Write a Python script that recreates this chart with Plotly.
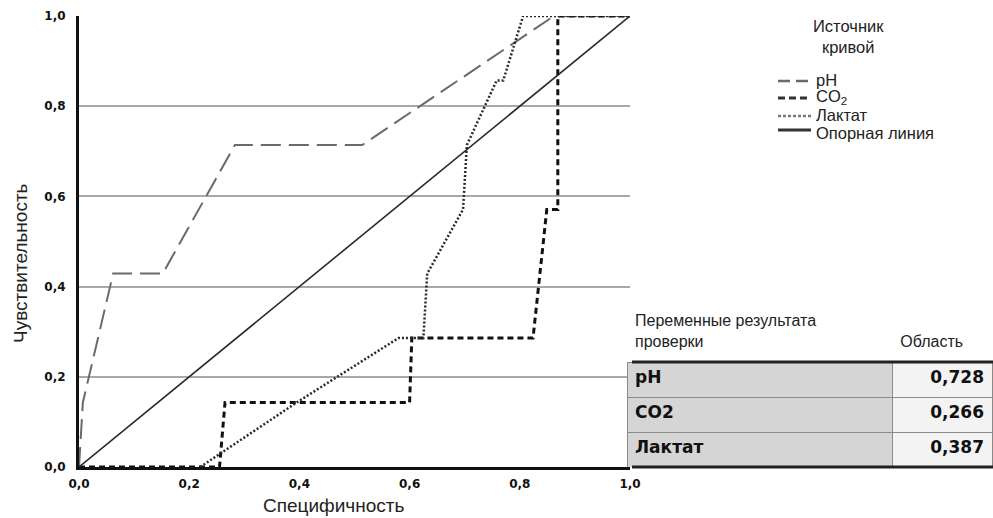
import plotly.graph_objects as go

# ---- data ----
ph_x = [0.0, 0.007, 0.062, 0.152, 0.283, 0.514, 0.862, 1.0]
ph_y = [0.0, 0.143, 0.429, 0.429, 0.714, 0.714, 1.0, 1.0]

co2_x = [0.0, 0.255, 0.265, 0.600, 0.604, 0.824, 0.849, 0.869, 0.869, 1.0]
co2_y = [0.0, 0.0, 0.143, 0.143, 0.286, 0.286, 0.571, 0.571, 1.0, 1.0]

lac_x = [0.22, 0.395, 0.58, 0.625, 0.632, 0.697, 0.704, 0.758, 0.77, 0.806, 1.0]
lac_y = [0.0, 0.143, 0.286, 0.286, 0.429, 0.571, 0.714, 0.857, 0.857, 1.0, 1.0]

ref_x = [0.0, 1.0]
ref_y = [0.0, 1.0]

series_names = ["pH", "CO<sub>2</sub>", "Лактат", "Опорная линия"]

table_vars = ["pH", "CO2", "Лактат"]
table_area = ["0,728", "0,266", "0,387"]

tick_vals = [0.0, 0.2, 0.4, 0.6, 0.8, 1.0]
tick_text = ["0,0", "0,2", "0,4", "0,6", "0,8", "1,0"]

# ---- layout geometry ----
W, H = 993, 518
ML, MT, MB = 79, 16, 51
plot_w = 630 - ML
full_w = W - ML
plot_h = H - MT - MB
xdom_end = plot_w / full_w


def px(p):
    return (p - ML) / full_w


def py(p):
    return (467 - p) / plot_h


styles = [
    dict(color="#6a6a6a", width=2, dash="20px,8px"),
    dict(color="#111111", width=3, dash="6px,4px"),
    dict(color="#2a2a2a", width=2.5, dash="2px,2px"),
    dict(color="#2a2a2a", width=1.6),
]
legend_styles = [
    dict(color="#6a6a6a", width=2.5, dash="12px,6px"),
    dict(color="#333333", width=3, dash="7px,4px"),
    dict(color="#777777", width=2.5, dash="3px,2px"),
    dict(color="#333333", width=3),
]

fig = go.Figure()
for xs, ys, nm, st in zip([ph_x, co2_x, lac_x, ref_x], [ph_y, co2_y, lac_y, ref_y],
                          series_names, styles):
    fig.add_trace(go.Scatter(x=xs, y=ys, mode="lines", name=nm, line=st,
                             showlegend=False))

# table
fig.add_trace(go.Table(
    domain=dict(x=[px(627), 1.0], y=[0.0, py(304)]),
    columnwidth=[266, 100],
    header=dict(values=["Переменные результата<br>проверки", "\u00a0<br>Область"],
                align=["left", "left"],
                fill=dict(color="white"),
                line=dict(color="white", width=0),
                font=dict(family="Liberation Sans, Arial", size=16, color="#222222"),
                height=58),
    cells=dict(values=[table_vars, table_area],
               align=["left", "right"],
               fill=dict(color=[["#d5d5d5"] * 3, ["#f3f3f3"] * 3]),
               line=dict(color="#8a8a8a", width=1),
               font=dict(family="DejaVu Sans", size=17, color="#111111", weight="bold"),
               height=35),
))

txt_font = dict(family="Liberation Sans, Arial", size=19, color="#222222")
leg_font = dict(family="Liberation Sans, Arial", size=16.5, color="#222222")
tick_font = dict(family="DejaVu Sans", size=12, color="#111111", weight="bold")

fig.update_layout(
    width=W, height=H, autosize=False,
    margin=dict(l=ML, r=0, t=MT, b=MB),
    plot_bgcolor="white", paper_bgcolor="white",
    font=dict(family="Liberation Sans, Arial", size=14, color="#222222"),
    showlegend=False,
    xaxis=dict(
        domain=[0, xdom_end], range=[0, 1], automargin=False,
        tickvals=tick_vals, ticktext=tick_text, tickfont=tick_font,
        showgrid=False, zeroline=False,
        showline=True, linecolor="#111111", linewidth=3,
        ticks="", ticklabelstandoff=4,
    ),
    yaxis=dict(
        range=[0, 1], automargin=False,
        tickvals=tick_vals, ticktext=tick_text, tickfont=tick_font,
        showgrid=True, gridcolor="#a8a8a8", gridwidth=2,
        zeroline=False,
        showline=True, linecolor="#111111", linewidth=3,
        ticks="", ticklabelstandoff=8,
    ),
)

# axis titles
fig.add_annotation(text="Специфичность", xref="paper", yref="paper",
                   x=px(333), y=py(505), showarrow=False, font=txt_font,
                   xanchor="center", yanchor="middle")
fig.add_annotation(text="Чувствительность", xref="paper", yref="paper",
                   x=px(20), y=py(263), showarrow=False, font=txt_font,
                   textangle=-90, xanchor="center", yanchor="middle")

# legend (drawn manually)
fig.add_annotation(text="Источник<br>кривой", xref="paper", yref="paper",
                   x=px(848), y=py(37), showarrow=False, font=leg_font,
                   align="center", xanchor="center", yanchor="middle")
leg_rows = [80, 97, 115, 133]
leg_line_rows = [81, 98, 116, 130]
for nm, st, ry, ly in zip(series_names, legend_styles, leg_rows, leg_line_rows):
    fig.add_annotation(text=nm, xref="paper", yref="paper",
                       x=px(814), y=py(ry), showarrow=False, font=leg_font,
                       xanchor="left", yanchor="middle")
    fig.add_shape(type="line", xref="paper", yref="paper",
                  x0=px(778), x1=px(811), y0=py(ly), y1=py(ly), line=st)

# thick borders of the table
fig.add_shape(type="line", xref="paper", yref="paper",
              x0=px(632), x1=1.0, y0=py(362), y1=py(362),
              line=dict(color="#222222", width=3))
fig.add_shape(type="line", xref="paper", yref="paper",
              x0=px(632), x1=1.0, y0=0, y1=0,
              line=dict(color="#222222", width=3))

post = ("document.body.style.margin='0px';"
        "document.body.style.overflow='hidden';")

fig.write_html("out.html",
               config=dict(displayModeBar=False),
               post_script=post)
